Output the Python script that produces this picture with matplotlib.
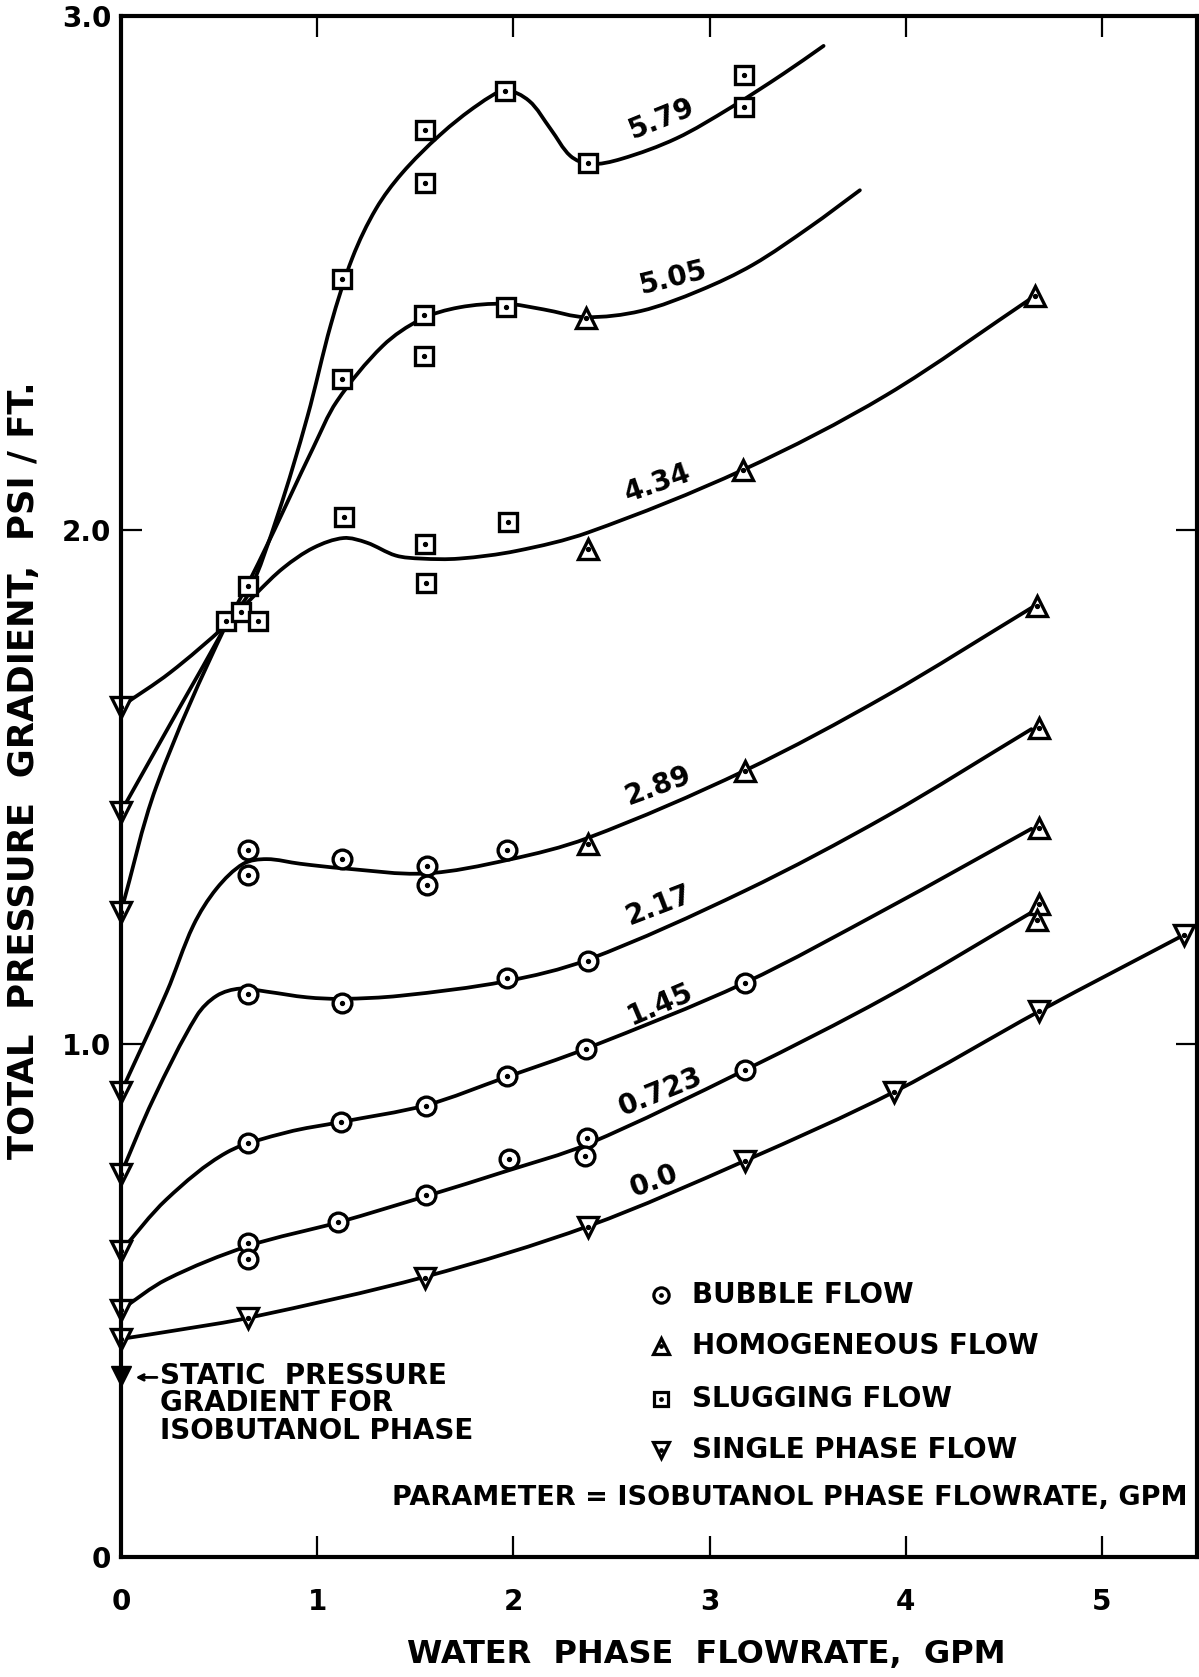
import numpy as np
import matplotlib
matplotlib.use("Agg")
import matplotlib.pyplot as plt
from matplotlib.path import Path
from matplotlib.patches import PathPatch

plt.rcParams['font.family'] = ['DejaVu Sans']
plt.rcParams['font.weight'] = 'bold'

# Parametro = vazao da fase isobutanol, GPM (uma curva por valor)
parametros = ["0.0", "0.723", "1.45", "2.17", "2.89", "4.34", "5.05", "5.79"]

# Curvas desenhadas a mao (pontos lidos ao longo de cada curva)
c00_x = [0, 0.30, 0.649, 1.550, 2.385, 3.181, 3.941, 4.681, 5.42]
c00_y = [0.425, 0.443, 0.466, 0.546, 0.645, 0.772, 0.906, 1.063, 1.212]

c0723_x = [0, 0.233, 0.649, 1.108, 1.555, 1.966, 2.377, 3.178, 3.9, 4.64]
c0723_y = [0.482, 0.541, 0.606, 0.652, 0.703, 0.752, 0.804, 0.948, 1.090, 1.255]

c145_x = [0, 0.233, 0.539, 0.845, 1.117, 1.555, 1.959, 2.370, 3.178, 3.9, 4.64]
c145_y = [0.596, 0.697, 0.788, 0.827, 0.847, 0.880, 0.934, 0.990, 1.118, 1.262, 1.418]

c217_x = [0, 0.165, 0.386, 0.488, 0.607, 0.743, 0.947, 1.128, 1.423, 1.959, 2.378, 3.178, 3.9, 4.64]
c217_y = [0.746, 0.892, 1.054, 1.093, 1.107, 1.101, 1.090, 1.087, 1.093, 1.121, 1.163, 1.297, 1.442, 1.612]

c289_x = [0, 0.233, 0.369, 0.488, 0.624, 0.743, 0.913, 1.134, 1.549, 1.978, 2.378, 3.178, 3.9, 4.64]
c289_y = [0.905, 1.100, 1.230, 1.302, 1.350, 1.359, 1.350, 1.341, 1.331, 1.358, 1.400, 1.531, 1.677, 1.848]

c434_x = [0, 0.25, 0.536, 0.692, 0.828, 0.981, 1.134, 1.253, 1.40, 1.530, 1.724, 2.017, 2.382, 3.172, 3.9, 4.66]
c434_y = [1.656, 1.722, 1.815, 1.877, 1.926, 1.965, 1.984, 1.975, 1.950, 1.944, 1.944, 1.959, 1.995, 2.117, 2.262, 2.456]

c505_x = [0, 0.30, 0.536, 0.70, 0.862, 0.98, 1.10, 1.334, 1.530, 1.724, 1.959, 2.154, 2.368, 2.65, 2.95, 3.221, 3.513, 3.766]
c505_y = [1.451, 1.655, 1.815, 1.935, 2.065, 2.160, 2.250, 2.358, 2.410, 2.433, 2.440, 2.429, 2.414, 2.426, 2.466, 2.516, 2.590, 2.661]

c579_x = [0, 0.18, 0.536, 0.649, 0.80, 0.95, 1.07, 1.18, 1.30, 1.432, 1.627, 1.822, 1.959, 2.08, 2.19, 2.29, 2.39, 2.55, 2.831, 3.104, 3.377, 3.581]
c579_y = [1.256, 1.500, 1.815, 1.875, 2.030, 2.220, 2.400, 2.530, 2.625, 2.694, 2.769, 2.828, 2.855, 2.835, 2.780, 2.728, 2.712, 2.722, 2.762, 2.821, 2.888, 2.942]

# Pontos experimentais por regime de escoamento
bolha_x = [0.646, 0.646, 1.108, 1.555, 1.980, 2.377, 2.365, 3.178,
           0.649, 1.120, 1.555, 1.968, 2.372, 3.178,
           0.649, 1.128, 1.968, 2.378,
           0.649, 0.649, 1.128, 1.559, 1.559, 1.968]
bolha_y = [0.612, 0.580, 0.653, 0.705, 0.776, 0.817, 0.781, 0.949,
           0.807, 0.848, 0.878, 0.937, 0.989, 1.118,
           1.097, 1.079, 1.127, 1.160,
           1.376, 1.329, 1.359, 1.345, 1.309, 1.376]

homog_x = [4.681, 4.671, 4.677, 4.681, 2.378, 3.178, 4.671, 2.382, 3.172, 4.661, 2.372]
homog_y = [1.271, 1.241, 1.420, 1.614, 1.388, 1.531, 1.852, 1.963, 2.117, 2.456, 2.412]

golfada_x = [0.536, 0.612, 0.697, 0.649, 1.135, 1.551, 1.557, 1.972,
             1.126, 1.543, 1.543, 1.964,
             1.126, 1.549, 1.549, 1.955, 2.382, 3.176, 3.176]
golfada_y = [1.822, 1.841, 1.822, 1.890, 2.025, 1.972, 1.897, 2.015,
             2.293, 2.419, 2.338, 2.434,
             2.489, 2.778, 2.675, 2.855, 2.715, 2.885, 2.823]

monof_x = [0, 0, 0, 0, 0, 0, 0, 0, 0.649, 1.550, 2.382, 3.181, 3.941, 4.681, 5.42]
monof_y = [1.656, 1.451, 1.256, 0.905, 0.746, 0.596, 0.482, 0.425, 0.466, 0.544, 0.643, 0.772, 0.906, 1.063, 1.212]

estatico_x = [0]
estatico_y = [0.352]

x_ticks = [0, 1, 2, 3, 4, 5]
x_ticklabels = ["0", "1", "2", "3", "4", "5"]
y_ticks = [0, 1, 2, 3]
y_ticklabels = ["0", "1.0", "2.0", "3.0"]


# Curva suave (Bezier cubica) passando pelos pontos lidos
def curva_suave(xs, ys):
    p = np.column_stack([xs, ys]).astype(float)
    s = p * np.array([196.2, 512.7])
    d = np.hypot(*np.diff(s, axis=0).T)
    t = np.zeros_like(p)
    t[1:-1] = (p[2:] - p[:-2]) / (d[1:] + d[:-1])[:, None]
    t[0] = (p[1] - p[0]) / d[0]
    t[-1] = (p[-1] - p[-2]) / d[-1]
    verts = [p[0]]
    codes = [Path.MOVETO]
    for i in range(len(p) - 1):
        verts += [p[i] + t[i] * d[i] / 3, p[i + 1] - t[i + 1] * d[i] / 3, p[i + 1]]
        codes += [Path.CURVE4] * 3
    return Path(verts, codes)


fig = plt.figure(figsize=(11.99, 16.77), dpi=100)
ax = fig.add_axes([0.1009, 0.0714, 0.8974, 0.919])

curvas = [(c00_x, c00_y), (c0723_x, c0723_y), (c145_x, c145_y), (c217_x, c217_y),
          (c289_x, c289_y), (c434_x, c434_y), (c505_x, c505_y), (c579_x, c579_y)]
for cx, cy in curvas:
    ax.add_patch(PathPatch(curva_suave(cx, cy), fill=False, lw=2.7, ec='black',
                           zorder=1.8, capstyle='round'))


def pontos(x, y, marker, ms, dot=True):
    ax.plot(x, y, linestyle='none', marker=marker, ms=ms, mfc='white', mec='black',
            mew=2.4, zorder=2, clip_on=False)
    if dot:
        ax.plot(x, y, linestyle='none', marker='o', ms=2.8, color='black', zorder=2.1,
                clip_on=False)


pontos(bolha_x, bolha_y, 'o', 13.5)
pontos(homog_x, homog_y, '^', 14.5)
pontos(golfada_x, golfada_y, 's', 12.5)
pontos(monof_x, monof_y, 'v', 14.5)
ax.plot(estatico_x, estatico_y, linestyle='none', marker='v', ms=14.5, color='black',
        zorder=2, clip_on=False)

# Rotulos das curvas (x, y, rotacao)
pos_rotulos = [(2.717, 0.732, 20), (2.748, 0.905, 22), (2.748, 1.077, 23), (2.744, 1.270, 21),
               (2.737, 1.501, 20), (2.734, 2.090, 19), (2.816, 2.490, 14), (2.757, 2.800, 22)]
for lab, (tx, ty, rot) in zip(parametros, pos_rotulos):
    ax.text(tx, ty, lab, rotation=rot, rotation_mode='anchor', ha='center', va='center',
            fontsize=20)

# Legenda desenhada a mao
leg_itens = [('o', 'BUBBLE FLOW'), ('^', 'HOMOGENEOUS FLOW'),
             ('s', 'SLUGGING FLOW'), ('v', 'SINGLE PHASE FLOW')]
leg_y = [0.170, 0.137, 0.103, 0.0694]
for (mk, txt), ly in zip(leg_itens, leg_y):
    ms = 10 if mk == 's' else 11
    ax.plot([0.502], [ly], marker=mk, ms=ms, mfc='white', mec='black', mew=2.3,
            transform=ax.transAxes, clip_on=False)
    ax.plot([0.502], [ly], marker='o', ms=2.4, color='black', transform=ax.transAxes)
    ax.text(0.531, ly, txt, transform=ax.transAxes, ha='left', va='center', fontsize=20)

ax.text(0.622, 0.0382, "PARAMETER = ISOBUTANOL PHASE FLOWRATE, GPM", transform=ax.transAxes,
        ha='center', va='center', fontsize=19.5)

ax.text(0.036, 0.100, "STATIC  PRESSURE\nGRADIENT FOR\nISOBUTANOL PHASE", transform=ax.transAxes,
        ha='left', va='center', fontsize=20, linespacing=0.98)
ax.annotate('', xy=(0.011, 0.1167), xytext=(0.036, 0.1167), xycoords='axes fraction',
            arrowprops=dict(arrowstyle='->', lw=2, color='black'))

ax.set_xlim(0, 5.484)
ax.set_ylim(0, 3.0)
ax.set_xticks(x_ticks)
ax.set_xticklabels(x_ticklabels)
ax.set_yticks(y_ticks)
ax.set_yticklabels(y_ticklabels)
ax.tick_params(direction='in', length=15, width=1.6, top=True, right=True, labelsize=20)
ax.tick_params(axis='x', pad=22)
ax.tick_params(axis='y', pad=7)
for sp in ax.spines.values():
    sp.set_linewidth(3)

fig.text(0.0196, 0.541, "TOTAL  PRESSURE  GRADIENT,  PSI / FT.", rotation=90, ha='center',
         va='center', fontsize=25.5)
fig.text(0.589, 0.0135, "WATER  PHASE  FLOWRATE,  GPM", ha='center', va='center', fontsize=23)

fig.savefig("out.png", dpi=100)
